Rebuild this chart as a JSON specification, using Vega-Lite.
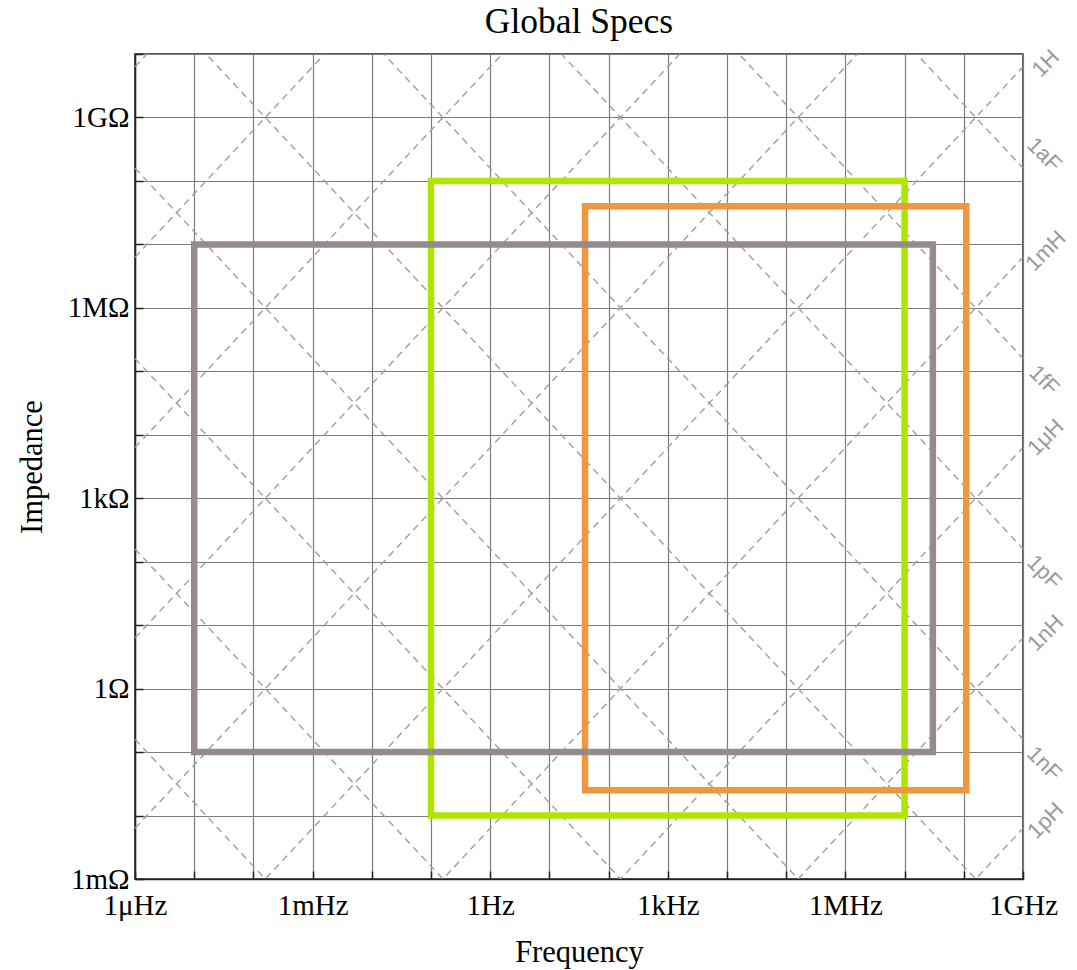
{
  "$schema": "https://vega.github.io/schema/vega-lite/v6.json",
  "width": 888,
  "height": 825,
  "autosize": {"type": "none"},
  "padding": {"left": 135, "top": 54, "right": 54, "bottom": 91},
  "background": "white",
  "title": {"text": "Global Specs", "font": "Liberation Serif", "fontSize": 35.5, "fontWeight": "normal", "color": "#000", "offset": 0, "anchor": "middle"},
  "config": {
    "view": {"stroke": "#222", "strokeWidth": 1.5},
    "axis": {
      "labelFont": "Liberation Serif", "labelFontSize": 29, "labelColor": "#000",
      "titleFont": "Liberation Serif", "titleFontSize": 30.5, "titleFontWeight": "normal", "titleColor": "#000",
      "gridColor": "#7c7c7c", "gridWidth": 1.2, "gridOpacity": 1,
      "domainColor": "#222", "domainWidth": 1.5,
      "tickColor": "#222", "tickWidth": 1.5, "tickSize": -8,
      "labelOverlap": false, "labelFlush": false, "labelBound": false
    }
  },
  "datasets": {
    "lines": [
      {"id": "L-12", "f": 1e-6, "z": 6.2832e-18}, {"id": "L-12", "f": 1e9, "z": 6.2832e-3},
      {"id": "L-9", "f": 1e-6, "z": 6.2832e-15}, {"id": "L-9", "f": 1e9, "z": 6.2832},
      {"id": "L-6", "f": 1e-6, "z": 6.2832e-12}, {"id": "L-6", "f": 1e9, "z": 6.2832e3},
      {"id": "L-3", "f": 1e-6, "z": 6.2832e-9}, {"id": "L-3", "f": 1e9, "z": 6.2832e6},
      {"id": "L0", "f": 1e-6, "z": 6.2832e-6}, {"id": "L0", "f": 1e9, "z": 6.2832e9},
      {"id": "L3", "f": 1e-6, "z": 6.2832e-3}, {"id": "L3", "f": 1e9, "z": 6.2832e12},
      {"id": "L6", "f": 1e-6, "z": 6.2832}, {"id": "L6", "f": 1e9, "z": 6.2832e15},
      {"id": "L9", "f": 1e-6, "z": 6.2832e3}, {"id": "L9", "f": 1e9, "z": 6.2832e18},
      {"id": "L12", "f": 1e-6, "z": 6.2832e6}, {"id": "L12", "f": 1e9, "z": 6.2832e21},
      {"id": "L15", "f": 1e-6, "z": 6.2832e9}, {"id": "L15", "f": 1e9, "z": 6.2832e24},
      {"id": "C-18", "f": 1e-6, "z": 1.5915e23}, {"id": "C-18", "f": 1e9, "z": 1.5915e8},
      {"id": "C-15", "f": 1e-6, "z": 1.5915e20}, {"id": "C-15", "f": 1e9, "z": 1.5915e5},
      {"id": "C-12", "f": 1e-6, "z": 1.5915e17}, {"id": "C-12", "f": 1e9, "z": 159.15},
      {"id": "C-9", "f": 1e-6, "z": 1.5915e14}, {"id": "C-9", "f": 1e9, "z": 0.15915},
      {"id": "C-6", "f": 1e-6, "z": 1.5915e11}, {"id": "C-6", "f": 1e9, "z": 1.5915e-4},
      {"id": "C-3", "f": 1e-6, "z": 1.5915e8}, {"id": "C-3", "f": 1e9, "z": 1.5915e-7},
      {"id": "C0", "f": 1e-6, "z": 1.5915e5}, {"id": "C0", "f": 1e9, "z": 1.5915e-10},
      {"id": "C3", "f": 1e-6, "z": 159.15}, {"id": "C3", "f": 1e9, "z": 1.5915e-13},
      {"id": "C6", "f": 1e-6, "z": 0.15915}, {"id": "C6", "f": 1e9, "z": 1.5915e-16}
    ],
    "specs": [
      {"spec": "B", "f": 0.1, "f2": 1e7, "z": 0.01, "z2": 1e8},
      {"spec": "C", "f": 40, "f2": 1.1e8, "z": 0.025, "z2": 4e7},
      {"spec": "A", "f": 1e-5, "f2": 3e7, "z": 0.1, "z2": 1e7}
    ],
    "labels": [
      {"label": "1H", "kind": "L", "f": 1e9, "z": 7.1e9},
      {"label": "1mH", "kind": "L", "f": 1e9, "z": 7.9e6},
      {"label": "1μH", "kind": "L", "f": 1e9, "z": 9.1e3},
      {"label": "1nH", "kind": "L", "f": 1e9, "z": 7.5},
      {"label": "1pH", "kind": "L", "f": 1e9, "z": 8.3e-3},
      {"label": "1aF", "kind": "C", "f": 1e9, "z": 2.6e8},
      {"label": "1fF", "kind": "C", "f": 1e9, "z": 7.2e4},
      {"label": "1pF", "kind": "C", "f": 1e9, "z": 68},
      {"label": "1nF", "kind": "C", "f": 1e9, "z": 0.066}
    ]
  },
  "encoding": {
    "x": {
      "field": "f", "type": "quantitative",
      "scale": {"type": "log", "domain": [1e-6, 1e9], "nice": false, "zero": false},
      "axis": {
        "title": "Frequency",
        "values": [1e-6, 1e-5, 1e-4, 1e-3, 1e-2, 1e-1, 1, 10, 100, 1000, 1e4, 1e5, 1e6, 1e7, 1e8, 1e9],
        "labelExpr": "round(log(datum.value)/LN10) == -6 ? '1μHz' : round(log(datum.value)/LN10) == -3 ? '1mHz' : round(log(datum.value)/LN10) == 0 ? '1Hz' : round(log(datum.value)/LN10) == 3 ? '1kHz' : round(log(datum.value)/LN10) == 6 ? '1MHz' : round(log(datum.value)/LN10) == 9 ? '1GHz' : ''",
        "labelPadding": 20, "titlePadding": 17
      }
    },
    "y": {
      "field": "z", "type": "quantitative",
      "scale": {"type": "log", "domain": [1e-3, 1e10], "nice": false, "zero": false},
      "axis": {
        "title": "Impedance",
        "values": [1e-3, 1e-2, 1e-1, 1, 10, 100, 1000, 1e4, 1e5, 1e6, 1e7, 1e8, 1e9, 1e10],
        "labelExpr": "round(log(datum.value)/LN10) == -3 ? '1mΩ' : round(log(datum.value)/LN10) == 0 ? '1Ω' : round(log(datum.value)/LN10) == 3 ? '1kΩ' : round(log(datum.value)/LN10) == 6 ? '1MΩ' : round(log(datum.value)/LN10) == 9 ? '1GΩ' : ''",
        "labelPadding": 14, "titlePadding": 20
      }
    }
  },
  "layer": [
    {
      "data": {"name": "lines"},
      "mark": {"type": "line", "clip": true, "color": "#9e9e9e", "strokeWidth": 1.4, "strokeDash": [7, 5]},
      "encoding": {"detail": {"field": "id", "type": "nominal"}}
    },
    {
      "data": {"name": "specs"},
      "mark": {"type": "rect", "filled": false, "strokeWidth": 6.5, "clip": true},
      "encoding": {
        "x2": {"field": "f2"},
        "y2": {"field": "z2"},
        "color": {"field": "spec", "type": "nominal", "scale": {"domain": ["A", "B", "C"], "range": ["#958b8b", "#aee600", "#f0963c"]}, "legend": null}
      }
    },
    {
      "data": {"name": "labels"},
      "transform": [{"filter": "datum.kind == 'L'"}],
      "mark": {"type": "text", "angle": -45, "dx": 16, "dy": 16, "align": "center", "baseline": "middle", "font": "Liberation Sans", "fontSize": 22, "color": "#9a9a9a"},
      "encoding": {"text": {"field": "label"}}
    },
    {
      "data": {"name": "labels"},
      "transform": [{"filter": "datum.kind == 'C'"}],
      "mark": {"type": "text", "angle": 45, "dx": 15, "dy": -15, "align": "center", "baseline": "middle", "font": "Liberation Sans", "fontSize": 22, "color": "#9a9a9a"},
      "encoding": {"text": {"field": "label"}}
    }
  ]
}
